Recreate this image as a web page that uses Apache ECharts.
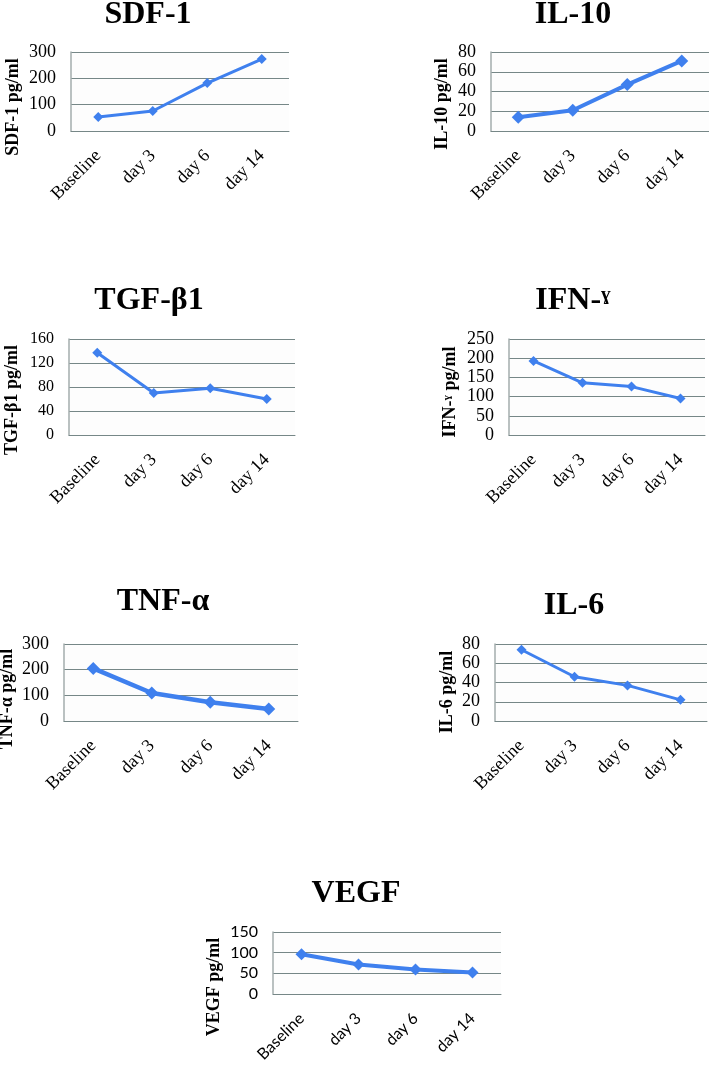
<!DOCTYPE html>
<html>
<head>
<meta charset="utf-8">
<script src="https://cdn.jsdelivr.net/npm/echarts@6/dist/echarts.min.js"></script>
<style>
html,body{margin:0;padding:0;background:#fff;}
#c{width:709px;height:1065px;}
</style>
</head>
<body>
<div id="c"></div>
<script>
const categories = ['Baseline', 'day 3', 'day 6', 'day 14'];
const sdf1 = [53, 76, 182, 273];
const il10 = [14, 21, 47, 71];
const tgfb1 = [137, 70, 78, 60];
const ifng = [193, 136, 126, 95];
const tnfa = [205, 109, 73, 47];
const il6 = [74, 46, 37, 22];
const vegf = [96, 71, 59, 52];

const titles = ['SDF-1', 'IL-10', 'TGF-β1', 'IFN-ˠ', 'TNF-α', 'IL-6', 'VEGF'];
const yNames = ['SDF-1 pg/ml', 'IL-10 pg/ml', 'TGF-β1 pg/ml', 'IFN-ˠ pg/ml', 'TNF-α pg/ml', 'IL-6 pg/ml', 'VEGF pg/ml'];
const yMax = [300, 80, 160, 250, 300, 80, 150];
const yStep = [100, 20, 40, 50, 100, 20, 50];
const seriesData = [sdf1, il10, tgfb1, ifng, tnfa, il6, vegf];

// layout (pixels)
const layout = [
  {l:71, t:52, w:218, h:79, tx:143, ty:12.5, nx:13, ny:107, tick:18, xl:18, lw:3, ms:10, sans:false},
  {l:491, t:52, w:218, h:79, tx:568, ty:12.5, nx:442, ny:104, tick:18, xl:18, lw:4, ms:13, sans:false},
  {l:69, t:339, w:226, h:96, tx:144, ty:299, nx:12, ny:400, tick:16, xl:18, lw:3, ms:10, sans:false},
  {l:509, t:339, w:196, h:96, tx:568, ty:299, nx:450, ny:392, tick:18, xl:18, lw:3, ms:10, sans:false},
  {l:64, t:644, w:234, h:77, tx:158, ty:600, nx:7, ny:699, tick:18, xl:18, lw:4.5, ms:13, sans:false},
  {l:495, t:644, w:212, h:77, tx:569, ty:604, nx:447, ny:692, tick:18, xl:18, lw:3, ms:10, sans:false},
  {l:273, t:932, w:228, h:66, tx:351, ty:892, nx:214, ny:987, tick:16, xl:16, lw:4, ms:12, sans:true}
];

const SERIF = '"Liberation Serif", "Times New Roman", serif';
const SANS = 'Lato, "Liberation Sans", sans-serif';
const LINE = '#3f80ee';
const GRID = '#768787';

const option = {
  backgroundColor: '#ffffff',
  animation: false,
  title: [], grid: [], xAxis: [], yAxis: [], series: [], graphic: []
};

layout.forEach((p, i) => {
  const tickFont = p.sans ? SANS : SERIF;
  option.title.push({
    text: titles[i],
    left: p.tx, top: p.ty - 19,
    textAlign: 'center',
    textStyle: {fontFamily: SERIF, fontWeight: 'bold', fontSize: 32, color: '#000'}
  });
  option.grid.push({left: p.l, top: p.t, width: p.w, height: p.h, containLabel: false,
    show: true, backgroundColor: '#fdfdfd', borderWidth: 0});
  option.xAxis.push({
    type: 'category', gridIndex: i, data: categories, boundaryGap: true,
    axisLine: {show: true, lineStyle: {color: GRID, width: 1}},
    axisTick: {show: false},
    axisLabel: {rotate: 45, margin: 22, fontFamily: tickFont, fontSize: p.xl, color: '#000', interval: 0}
  });
  option.yAxis.push({
    type: 'value', gridIndex: i, min: 0, max: yMax[i], interval: yStep[i],
    axisLine: {show: true, lineStyle: {color: '#a3adad', width: 1.5}},
    axisTick: {show: false},
    axisLabel: {fontFamily: tickFont, fontSize: p.tick, color: '#000', margin: 15},
    splitLine: {show: true, lineStyle: {color: GRID, width: 1}}
  });
  option.series.push({
    type: 'line', xAxisIndex: i, yAxisIndex: i, data: seriesData[i],
    symbol: 'diamond', symbolSize: p.ms,
    lineStyle: {color: LINE, width: p.lw},
    itemStyle: {color: LINE}
  });
  option.graphic.push({
    type: 'text', x: p.nx, y: p.ny, rotation: Math.PI / 2,
    style: {text: yNames[i], font: 'bold 18px ' + SERIF, fill: '#000',
      align: 'center', verticalAlign: 'middle'}
  });
});

const chart = echarts.init(document.getElementById('c'), null, {renderer: 'canvas'});
chart.setOption(option);
</script>
</body>
</html>
